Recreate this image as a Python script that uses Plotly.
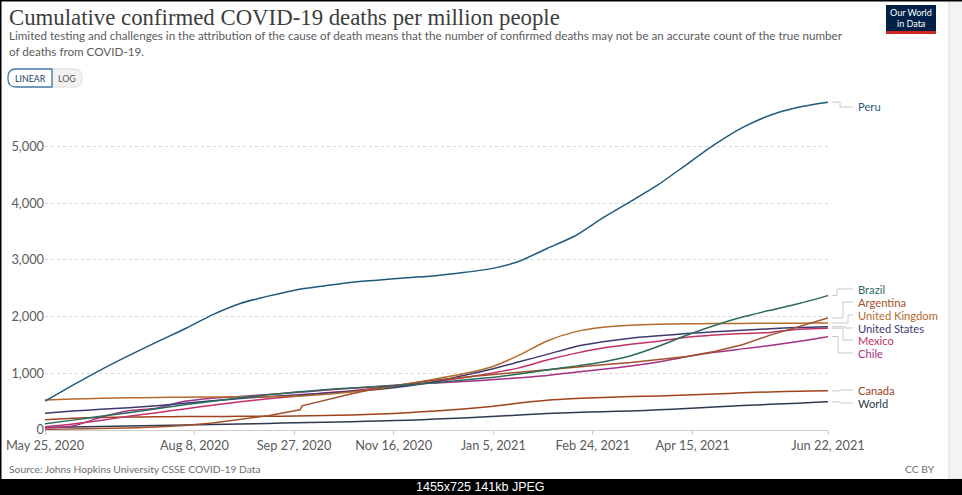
import plotly.graph_objects as go

# ---------------- data ----------------
DATES = ["2020-05-25", "2020-06-08", "2020-06-22", "2020-07-06", "2020-07-20", "2020-08-03",
         "2020-08-17", "2020-08-31", "2020-09-14", "2020-09-28", "2020-10-12", "2020-10-26",
         "2020-11-09", "2020-11-23", "2020-12-07", "2020-12-21", "2021-01-04", "2021-01-18",
         "2021-02-01", "2021-02-15", "2021-03-01", "2021-03-15", "2021-03-29", "2021-04-12",
         "2021-04-26", "2021-05-10", "2021-05-24", "2021-06-07", "2021-06-21", "2021-06-22"]

peru = [510, 790, 1060, 1310, 1550, 1780, 2030, 2230, 2360, 2470, 2540, 2605, 2645, 2685, 2720,
        2775, 2845, 2975, 3200, 3420, 3740, 4030, 4330, 4680, 5030, 5330, 5550, 5690, 5775, 5780]
brazil = [108, 174, 242, 306, 376, 445, 508, 569, 621, 668, 709, 740, 766, 797, 834, 881, 925,
          989, 1059, 1126, 1200, 1309, 1476, 1670, 1843, 1991, 2112, 2227, 2360, 2374]
uk = [528, 545, 558, 567, 573, 578, 582, 585, 588, 595, 625, 670, 730, 815, 900, 990, 1110,
      1320, 1570, 1730, 1810, 1848, 1864, 1872, 1876, 1879, 1881, 1883, 1887, 1887]
us = [297, 335, 364, 394, 426, 470, 515, 555, 588, 619, 648, 681, 717, 776, 856, 962, 1072,
      1202, 1333, 1469, 1555, 1618, 1661, 1700, 1732, 1759, 1786, 1805, 1819, 1820]
mexico = [57, 106, 169, 241, 306, 370, 438, 499, 551, 594, 651, 692, 743, 787, 851, 920, 999,
          1095, 1233, 1351, 1444, 1510, 1565, 1635, 1675, 1701, 1720, 1777, 1793, 1795]
chile = [38, 71, 225, 340, 385, 505, 560, 590, 625, 660, 700, 735, 770, 805, 830, 855, 885,
         920, 960, 1020, 1070, 1130, 1200, 1290, 1370, 1430, 1490, 1560, 1640, 1648]
canada = [180, 205, 222, 229, 233, 237, 239, 241, 243, 246, 255, 265, 280, 305, 335, 370, 415,
          475, 525, 555, 575, 590, 600, 615, 635, 655, 672, 683, 690, 690]
world = [44, 53, 62, 70, 79, 88, 97, 106, 116, 128, 137, 147, 160, 174, 192, 211, 237, 264,
         290, 310, 323, 336, 355, 380, 405, 430, 452, 472, 496, 497]

ARG_DATES = ["2020-05-25", "2020-06-08", "2020-06-22", "2020-07-06", "2020-07-20", "2020-08-03",
             "2020-08-17", "2020-08-31", "2020-09-14", "2020-09-28", "2020-09-30", "2020-10-01",
             "2020-10-12", "2020-10-26", "2020-11-09", "2020-11-23", "2020-12-07", "2020-12-21",
             "2021-01-04", "2021-01-18", "2021-02-01", "2021-02-15", "2021-03-01", "2021-03-15",
             "2021-03-29", "2021-04-12", "2021-04-26", "2021-05-10", "2021-05-24", "2021-06-07",
             "2021-06-21", "2021-06-22"]
argentina = [11, 16, 24, 37, 55, 80, 125, 185, 250, 345, 355, 425, 520, 640, 745, 815, 880, 930,
             976, 1020, 1060, 1108, 1150, 1190, 1237, 1294, 1385, 1502, 1673, 1821, 1962, 1975]

X_TICKS = ["2020-05-25", "2020-08-08", "2020-09-27", "2020-11-16", "2021-01-05",
           "2021-02-24", "2021-04-15", "2021-06-22"]
Y_TICKS = [0, 1000, 2000, 3000, 4000, 5000]

# name, dates, values, colour, label y (px), elbow x (px), line shape
SERIES = [
    ("World", DATES, world, "#2d3a4e", 403, 840, "spline"),
    ("Canada", DATES, canada, "#a0421c", 390, 840, "spline"),
    ("Chile", DATES, chile, "#a23184", 353, 838, "spline"),
    ("Mexico", DATES, mexico, "#c2306b", 340, 843, "spline"),
    ("United States", DATES, us, "#3d3a73", 328, 845, "spline"),
    ("United Kingdom", DATES, uk, "#b36a2b", 315, 848, "spline"),
    ("Argentina", ARG_DATES, argentina, "#a1522a", 302, 843, "linear"),
    ("Brazil", DATES, brazil, "#2a6b5a", 289, 837, "spline"),
    ("Peru", DATES, peru, "#1f5a7a", 107, 840, "spline"),
]

# ---------------- geometry ----------------
W, H = 962, 495
PL, PR, PT, PB = 45, 828, 101, 430
YMAX = 5800


def px(x):
    return (x - PL) / (PR - PL)


def py(y):
    return (PB - y) / (PB - PT)


def rrect(x0, y0, x1, y1, r, left=True, right=True):
    p = []
    if left:
        p.append(f"M{px(x0 + r)},{py(y0)}")
    else:
        p.append(f"M{px(x0)},{py(y0)}")
    if right:
        p.append(f"L{px(x1 - r)},{py(y0)} Q{px(x1)},{py(y0)} {px(x1)},{py(y0 + r)}")
        p.append(f"L{px(x1)},{py(y1 - r)} Q{px(x1)},{py(y1)} {px(x1 - r)},{py(y1)}")
    else:
        p.append(f"L{px(x1)},{py(y0)} L{px(x1)},{py(y1)}")
    if left:
        p.append(f"L{px(x0 + r)},{py(y1)} Q{px(x0)},{py(y1)} {px(x0)},{py(y1 - r)}")
        p.append(f"L{px(x0)},{py(y0 + r)} Q{px(x0)},{py(y0)} {px(x0 + r)},{py(y0)}")
    else:
        p.append(f"L{px(x0)},{py(y1)} L{px(x0)},{py(y0)}")
    return " ".join(p) + " Z"


fig = go.Figure()
for name, d, v, c, ly, ex, shp in SERIES:
    fig.add_trace(go.Scatter(x=d, y=v, mode="lines", name=name,
                             line=dict(color=c, width=1.5, shape=shp, smoothing=0.6),
                             hoverinfo="x+y+name"))

shapes = []
annotations = []

LABEL_FONT = 11.2
# connectors + labels
for name, d, v, c, ly, ex, shp in SERIES:
    yend = PB - v[-1] / YMAX * (PB - PT)
    path = (f"M{px(PR + 4)},{py(yend)} L{px(ex)},{py(yend)} "
            f"L{px(ex)},{py(ly)} L{px(853)},{py(ly)}")
    shapes.append(dict(type="path", xref="paper", yref="paper", path=path,
                       line=dict(color="#c8c8c8", width=1)))
    annotations.append(dict(xref="paper", yref="paper", x=px(856), y=py(ly), text=name,
                            showarrow=False, xanchor="left", yanchor="middle",
                            font=dict(family="Lato", size=LABEL_FONT, color=c)))

# title / subtitle
annotations.append(dict(xref="paper", yref="paper", x=px(7), y=py(17),
                        text="Cumulative confirmed COVID-19 deaths per million people",
                        showarrow=False, xanchor="left", yanchor="middle",
                        font=dict(family="Liberation Serif", size=22.8, color="#3d3d3d")))
annotations.append(dict(xref="paper", yref="paper", x=px(7), y=py(36),
                        text="Limited testing and challenges in the attribution of the cause of death means that the number of confirmed deaths may not be an accurate count of the true number",
                        showarrow=False, xanchor="left", yanchor="middle",
                        font=dict(family="Lato", size=11.65, color="#5b5b5b")))
annotations.append(dict(xref="paper", yref="paper", x=px(7), y=py(51),
                        text="of deaths from COVID-19.",
                        showarrow=False, xanchor="left", yanchor="middle",
                        font=dict(family="Lato", size=11.65, color="#5b5b5b")))

# LINEAR / LOG toggle
shapes.append(dict(type="path", xref="paper", yref="paper",
                   path=rrect(52, 69, 82, 87, 8, left=False, right=True),
                   fillcolor="#f2f2f2", line=dict(color="#dddddd", width=1)))
shapes.append(dict(type="path", xref="paper", yref="paper",
                   path=rrect(8, 69, 52, 87, 8, left=True, right=False),
                   fillcolor="#ffffff", line=dict(color="#3f78a8", width=1.3)))
annotations.append(dict(xref="paper", yref="paper", x=px(30), y=py(78), text="LINEAR",
                        showarrow=False, xanchor="center", yanchor="middle",
                        font=dict(family="Lato", size=8.8, color="#1d3d63")))
annotations.append(dict(xref="paper", yref="paper", x=px(67), y=py(78), text="LOG",
                        showarrow=False, xanchor="center", yanchor="middle",
                        font=dict(family="Lato", size=8.8, color="#555555")))

# OWID logo
shapes.append(dict(type="rect", xref="paper", yref="paper", x0=px(886), x1=px(936),
                   y0=py(31), y1=py(5), fillcolor="#002147", line=dict(width=0)))
shapes.append(dict(type="rect", xref="paper", yref="paper", x0=px(886), x1=px(936),
                   y0=py(34), y1=py(31), fillcolor="#ce261e", line=dict(width=0)))
annotations.append(dict(xref="paper", yref="paper", x=px(911), y=py(12.5), text="Our World",
                        showarrow=False, xanchor="center", yanchor="middle",
                        font=dict(family="Lato", size=9, color="#ffffff")))
annotations.append(dict(xref="paper", yref="paper", x=px(911), y=py(23.5), text="in Data",
                        showarrow=False, xanchor="center", yanchor="middle",
                        font=dict(family="Lato", size=9, color="#ffffff")))

# footer
annotations.append(dict(xref="paper", yref="paper", x=px(7), y=py(469),
                        text="Source: Johns Hopkins University CSSE COVID-19 Data",
                        showarrow=False, xanchor="left", yanchor="middle",
                        font=dict(family="Lato", size=10.3, color="#6e6e6e")))
annotations.append(dict(xref="paper", yref="paper", x=px(937), y=py(469), text="CC BY",
                        showarrow=False, xanchor="right", yanchor="middle",
                        font=dict(family="Lato", size=10.3, color="#6e6e6e")))

# frame: right strip, borders, bottom bar
shapes.append(dict(type="rect", xref="paper", yref="paper", x0=px(949), x1=px(W + 2),
                   y0=py(479), y1=py(-2), fillcolor="#f3f3f3",
                   line=dict(color="#d9d9d9", width=1)))
shapes.append(dict(type="rect", xref="paper", yref="paper", x0=px(-1), x1=px(1.5),
                   y0=py(H + 1), y1=py(-1), fillcolor="#000000", line=dict(width=0)))
shapes.append(dict(type="rect", xref="paper", yref="paper", x0=px(-1), x1=px(W + 1),
                   y0=py(1.5), y1=py(-1), fillcolor="#000000", line=dict(width=0)))
shapes.append(dict(type="rect", xref="paper", yref="paper", x0=px(-1), x1=px(W + 1),
                   y0=py(H + 1), y1=py(479), fillcolor="#000000", line=dict(width=0)))
annotations.append(dict(xref="paper", yref="paper", x=px(481), y=py(487),
                        text="1455x725 141kb JPEG", showarrow=False,
                        xanchor="center", yanchor="middle",
                        font=dict(family="Liberation Sans", size=12.5, color="#ffffff")))

fig.update_layout(
    width=W, height=H,
    margin=dict(l=PL, r=W - PR, t=PT, b=H - PB, pad=0, autoexpand=False),
    paper_bgcolor="#ffffff", plot_bgcolor="#ffffff",
    showlegend=False,
    shapes=shapes, annotations=annotations,
    xaxis=dict(type="date", range=["2020-05-25", "2021-06-22"], tickvals=X_TICKS,
               tickformat="%b %-d, %Y", showgrid=False, showline=True, linecolor="#cccccc",
               ticks="outside", ticklen=4, tickcolor="#cccccc", zeroline=False,
               automargin=False,
               tickfont=dict(family="Lato", size=12.8, color="#5b5b5b")),
    yaxis=dict(range=[0, YMAX], tickvals=Y_TICKS, tickformat=",", showgrid=True,
               gridcolor="#d6d6d6", griddash="dot", zeroline=False, showline=False,
               ticks="", automargin=False,
               tickfont=dict(family="Lato", size=12.8, color="#5b5b5b")),
)

fig.write_html("out.html")
